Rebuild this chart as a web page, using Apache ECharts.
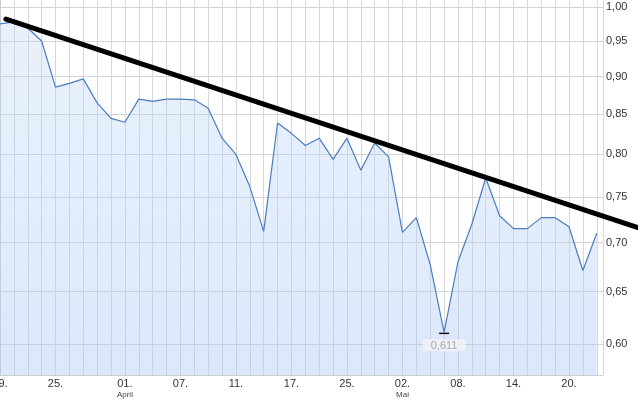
<!DOCTYPE html>
<html>
<head>
<meta charset="utf-8">
<script src="https://cdn.jsdelivr.net/npm/echarts@6/dist/echarts.min.js"></script>
<style>
html,body{margin:0;padding:0;background:#fff;}
#c{width:638px;height:400px;}
</style>
</head>
<body>
<div id="c"></div>
<script>
// Trading days 19.03.2014 - 22.05.2014
const dates = ['19.03.','20.03.','21.03.','24.03.','25.03.','26.03.','27.03.','28.03.','31.03.',
  '01.04.','02.04.','03.04.','04.04.','07.04.','08.04.','09.04.','10.04.','11.04.','14.04.','15.04.','16.04.','17.04.',
  '22.04.','23.04.','24.04.','25.04.','28.04.','29.04.','30.04.',
  '02.05.','05.05.','06.05.','07.05.','08.05.','09.05.','12.05.','13.05.','14.05.','15.05.','16.05.','19.05.','20.05.','21.05.','22.05.'];
const prices = [0.975,0.978,0.969,0.950,0.886,0.891,0.897,0.865,0.845,
  0.840,0.870,0.867,0.870,0.870,0.869,0.858,0.820,0.800,0.762,0.712,0.839,0.826,
  0.811,0.820,0.794,0.820,0.781,0.814,0.797,
  0.711,0.727,0.677,0.611,0.680,0.720,0.772,0.729,0.715,0.715,0.727,0.727,0.717,0.671,0.710];
const tickIdx   = [0,4,9,13,17,21,25,29,33,37,41];
const tickText  = ['19.','25.','01.','07.','11.','17.','25.','02.','08.','14.','20.'];
const tickMonth = ['','','April','','','','','Mai','','',''];
const yTicks = [0.60,0.65,0.70,0.75,0.80,0.85,0.90,0.95,1.00];
const yMin = 0.5728, yMax = 1.0109;
// resistance trend line, anchors in (day index, price); drawn on to the right edge
const trendX = [0.43, 43];
const trendY = [0.982, 0.731];

const chart = echarts.init(document.getElementById('c'));
const fmtY = v => v.toFixed(2).replace('.', ',');
chart.setOption({
  animation: false,
  backgroundColor: '#ffffff',
  grid: {left: 0, right: 35, top: 0, bottom: 25, containLabel: false, outerBoundsMode: 'none'},
  xAxis: {
    type: 'value', min: 0, max: 43.45, interval: 1,
    axisLine: {show: true, lineStyle: {color: '#cfcfcf', width: 1}},
    axisTick: {show: false},
    splitLine: {show: true, lineStyle: {color: '#d8d8d8', width: 1}},
    axisLabel: {
      show: true, margin: 3, showMaxLabel: false, showMinLabel: true,
      hideOverlap: false, alignMinLabel: 'center',
      formatter: function (v) {
        const k = tickIdx.indexOf(Math.round(v * 100) / 100);
        if (k < 0) return '';
        return tickMonth[k] ? '{d|' + tickText[k] + '}\n{m|' + tickMonth[k] + '}' : '{d|' + tickText[k] + '}';
      },
      rich: {
        d: {fontFamily: 'Liberation Sans, Arial, sans-serif', fontSize: 11, color: '#333', lineHeight: 12},
        m: {fontFamily: 'Liberation Sans, Arial, sans-serif', fontSize: 8, color: '#444', lineHeight: 9}
      }
    }
  },
  yAxis: {
    type: 'log', logBase: 10, position: 'right', min: yMin, max: yMax,
    axisLine: {show: true, lineStyle: {color: '#cfcfcf', width: 1}},
    axisTick: {show: false, customValues: yTicks},
    splitLine: {show: true, lineStyle: {color: '#d4d4d4', width: 1}},
    axisLabel: {
      customValues: yTicks, margin: 3,
      formatter: v => fmtY(v),
      fontFamily: 'Liberation Sans, Arial, sans-serif', fontSize: 11, color: '#333'
    }
  },
  series: [
    {
      type: 'line',
      data: prices.map((v, i) => [i, v]),
      symbol: 'none',
      lineStyle: {color: '#4a7cc0', width: 1.2},
      areaStyle: {
        origin: 'start',
        color: new echarts.graphic.LinearGradient(0, 0, 0, 1, [
          {offset: 0, color: 'rgba(186,210,246,0.45)'},
          {offset: 1, color: 'rgba(170,200,244,0.6)'}
        ])
      },
      markPoint: {
        data: [{type: 'min'}],
        symbol: 'rect', symbolSize: [10, 1.5], symbolOffset: [0, 1],
        itemStyle: {color: '#111'},
        label: {
          show: true, position: 'bottom', distance: 5,
          formatter: p => p.value.toFixed(3).replace('.', ','),
          color: '#a8a8a8', fontSize: 11, fontFamily: 'Liberation Sans, Arial, sans-serif',
          backgroundColor: 'rgba(244,244,246,0.75)', padding: [1, 8, 0, 8]
        }
      },
      z: 2
    }
  ]
});

// trend line: anchors converted through the chart's scales, then extended to the canvas edge
const p0 = chart.convertToPixel({gridIndex: 0}, [trendX[0], trendY[0]]);
const p1 = chart.convertToPixel({gridIndex: 0}, [trendX[1], trendY[1]]);
const W = chart.getWidth();
const slope = (p1[1] - p0[1]) / (p1[0] - p0[0]);
const pEnd = [W, p0[1] + slope * (W - p0[0])];
chart.setOption({
  graphic: [{
    type: 'line', z: 100,
    shape: {x1: p0[0], y1: p0[1], x2: pEnd[0], y2: pEnd[1]},
    style: {stroke: '#000', lineWidth: 5, lineCap: 'round'}
  }]
});
</script>
</body>
</html>
